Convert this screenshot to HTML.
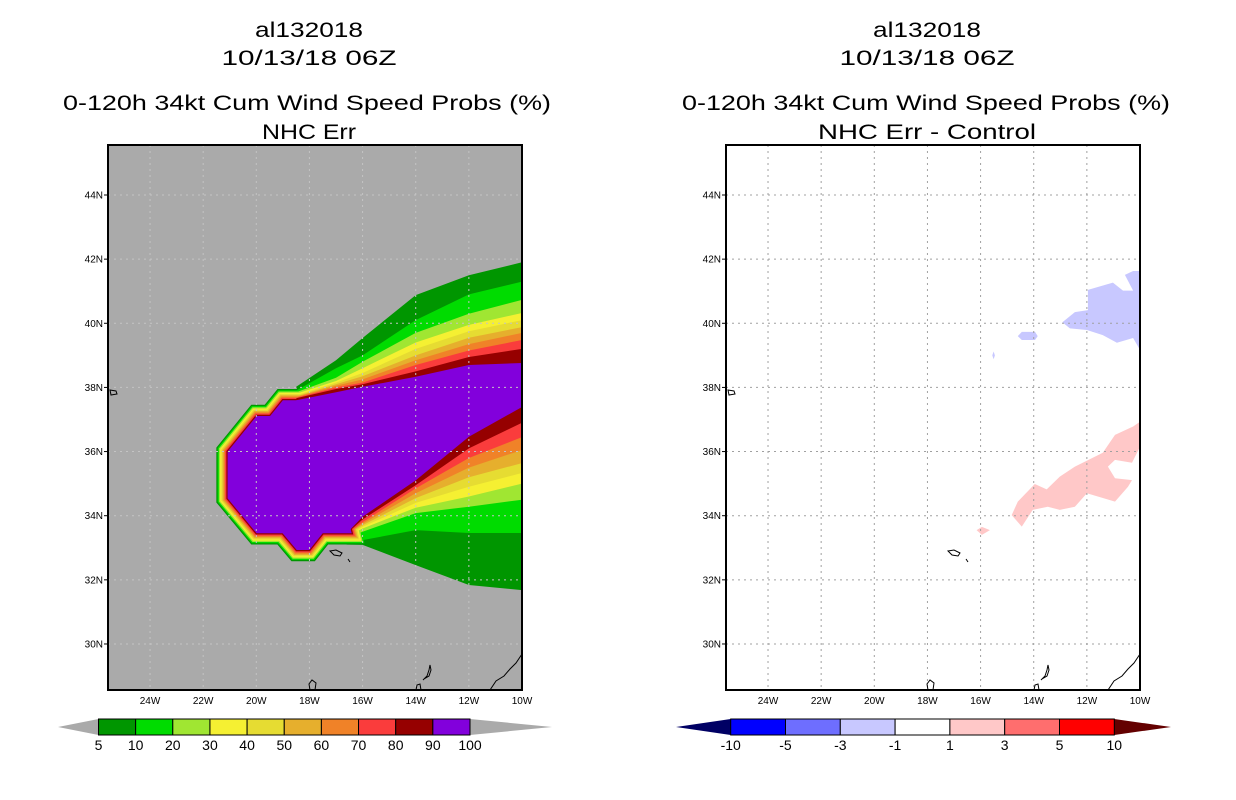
<!DOCTYPE html>
<html><head><meta charset="utf-8"><style>
html,body{margin:0;padding:0;background:#fff;width:1236px;height:800px;overflow:hidden}
svg{display:block}
text{font-family:"Liberation Sans",sans-serif;fill:#000}
</style></head><body>
<svg id="c" width="1236" height="800" viewBox="0 0 1236 800" xmlns="http://www.w3.org/2000/svg">
<g>
<text x="309" y="37" font-size="21" text-anchor="middle" textLength="108" lengthAdjust="spacingAndGlyphs">al132018</text>
<text x="309" y="65" font-size="21" text-anchor="middle" textLength="175" lengthAdjust="spacingAndGlyphs">10/13/18 06Z</text>
<text x="307" y="110" font-size="21" text-anchor="middle" textLength="488" lengthAdjust="spacingAndGlyphs">0-120h 34kt Cum Wind Speed Probs (%)</text>
<text x="309" y="139" font-size="21" text-anchor="middle" textLength="94" lengthAdjust="spacingAndGlyphs">NHC Err</text>
</g>
<g>
<text x="927" y="37" font-size="21" text-anchor="middle" textLength="108" lengthAdjust="spacingAndGlyphs">al132018</text>
<text x="927" y="65" font-size="21" text-anchor="middle" textLength="175" lengthAdjust="spacingAndGlyphs">10/13/18 06Z</text>
<text x="926" y="110" font-size="21" text-anchor="middle" textLength="488" lengthAdjust="spacingAndGlyphs">0-120h 34kt Cum Wind Speed Probs (%)</text>
<text x="927" y="139" font-size="21" text-anchor="middle" textLength="218" lengthAdjust="spacingAndGlyphs">NHC Err - Control</text>
</g>
<g id="left"></g>
<g id="right"></g>
<g id="cbars"></g>
</svg>
<script>
// ---- data ----
const levels = [5,10,20,30,40,50,60,70,80,90];
const levelColors = ["#009600","#00dc00","#a0e632","#f5f032","#e6dc32","#e6af2d","#f08228","#fa3c3c","#960000","#8200dc"];
const upperLons = [-18.5,-17,-16,-14,-12,-10];
const upper5  = [38.02,38.85,39.54,40.88,41.5,41.9];
const upper10 = [37.9,38.6,39.0,40.1,40.9,41.3];
const upper20 = [37.85,38.3,38.8,39.7,40.3,40.73];
const upper30 = [37.8,38.2,38.6,39.4,39.95,40.32];
const upper40 = [37.75,38.15,38.45,39.2,39.75,40.1];
const upper50 = [37.72,38.1,38.35,39.0,39.55,39.88];
const upper60 = [37.7,38.05,38.25,38.85,39.35,39.7];
const upper70 = [37.68,38.0,38.15,38.7,39.15,39.48];
const upper80 = [37.66,37.95,38.1,38.5,38.95,39.2];
const upper90 = [37.6,37.85,38.02,38.33,38.7,38.76];
const lowerLons = [-16.6,-16,-14,-12,-10];
const lower5  = [33.1,33.09,32.46,31.84,31.68];
const lower10 = [33.2,33.24,33.55,33.46,33.46];
const lower20 = [33.3,33.5,34.08,34.28,34.5];
const lower30 = [33.35,33.6,34.25,34.6,35.0];
const lower40 = [33.38,33.65,34.4,34.9,35.33];
const lower50 = [33.4,33.7,34.55,35.2,35.64];
const lower60 = [33.42,33.75,34.7,35.5,36.05];
const lower70 = [33.43,33.8,34.85,35.8,36.45];
const lower80 = [33.44,33.88,34.95,36.1,36.9];
const lower90 = [33.45,33.97,35.1,36.46,37.39];
const coreLon = [-17.6,-19.0,-19.48,-19.99,-21.08,-21.08,-19.99,-19.01,-18.48,-18.0,-17.5,-16.41];
const coreLat = [37.6,37.6,37.11,37.11,36.0,34.54,33.45,33.45,32.93,32.93,33.45,33.45];
const diffBlueLon = [-12.92,-12.45,-11.96,-11.96,-11.02,-10.64,-10.26,-10.57,-10.26,-10,-10,-10.26,-10.87,-11.4,-12.0,-12.64];
const diffBlueLat = [40.03,40.35,40.41,41.04,41.27,41.02,41.02,41.51,41.63,41.63,39.17,39.54,39.39,39.63,39.79,39.84];
const diffBlue2Lon = [-14.6,-14.45,-13.95,-13.85,-13.95,-14.45];
const diffBlue2Lat = [39.6,39.73,39.73,39.6,39.48,39.48];
const diffBlue3Lon = [-15.56,-15.51,-15.46,-15.51];
const diffBlue3Lat = [39.0,39.12,39.0,38.88];
const diffPinkLon = [-14.83,-14.6,-13.96,-13.51,-13.02,-12.45,-11.4,-10.94,-10.26,-10,-10,-10.3,-10.94,-11.21,-10.94,-10.3,-10.45,-10.94,-12.0,-12.45,-13.02,-13.47,-14.04,-14.45];
const diffPinkLat = [34.02,34.44,34.99,34.82,35.22,35.53,35.96,36.52,36.78,36.93,36.15,35.65,35.74,35.53,35.17,35.11,34.9,34.44,34.7,34.28,34.18,34.28,34.18,33.66];
const diffPink2Lon = [-16.15,-15.95,-15.65,-15.95];
const diffPink2Lat = [33.55,33.65,33.55,33.4];
const lonTicks = [-24,-22,-20,-18,-16,-14,-12,-10];
const lonTickLabels = ["24W","22W","20W","18W","16W","14W","12W","10W"];
const latTicks = [30,32,34,36,38,40,42,44];
const latTickLabels = ["30N","32N","34N","36N","38N","40N","42N","44N"];
const probBounds = ["5","10","20","30","40","50","60","70","80","90","100"];
const diffBounds = ["-10","-5","-3","-1","1","3","5","10"];
const diffColors = ["#0000ff","#6e6eff","#c8c8ff","#ffffff","#ffc8c8","#ff6e6e","#ff0000"];

const uppers=[upper5,upper10,upper20,upper30,upper40,upper50,upper60,upper70,upper80,upper90];
const lowers=[lower5,lower10,lower20,lower30,lower40,lower50,lower60,lower70,lower80,lower90];

// ---- axes ----
const NS="http://www.w3.org/2000/svg";
const PX={L:108,R:522,T:145,B:690};
function xS(lon,off){return 522+off+(lon+10)*26.57;}
function yS(lat){return 195+(44-lat)*32.07;}
function mk(tag,attrs,parent){const e=document.createElementNS(NS,tag);for(const k in attrs)e.setAttribute(k,attrs[k]);parent.appendChild(e);return e;}
function poly(lons,lats,off){return lons.map((l,i)=>xS(l,off).toFixed(1)+","+yS(lats[i]).toFixed(1)).join(" ");}

function frame(g,off,bg){
  const clipId="clip"+off;
  const cp=mk("clipPath",{id:clipId},g);
  mk("rect",{x:PX.L+off,y:PX.T,width:PX.R-PX.L,height:PX.B-PX.T},cp);
  const bgR=mk("rect",{x:PX.L+off,y:PX.T,width:PX.R-PX.L,height:PX.B-PX.T,fill:bg},g);
  
  
  const inner=mk("g",{"clip-path":"url(#"+clipId+")"},g);
  return inner;
}
function gridAndAxes(g,inner,off,gridColor){
  lonTicks.forEach((lon,i)=>{
    const x=xS(lon,off);
    if(lon<-10){const gl=mk("line",{x1:x,y1:PX.T,x2:x,y2:PX.B,stroke:gridColor,"stroke-width":1,"stroke-dasharray":"2,4"},inner);
    
    }
    const t=mk("text",{x:x,y:704,"font-size":10,"text-anchor":"middle"},g);t.textContent=lonTickLabels[i];
    
    
  });
  latTicks.forEach((lat,i)=>{
    const y=yS(lat);
    const gl=mk("line",{x1:PX.L+off,y1:y,x2:PX.R+off,y2:y,stroke:gridColor,"stroke-width":1,"stroke-dasharray":"2,4"},inner);
    
    
    mk("line",{x1:PX.L+off-4,y1:y,x2:PX.L+off,y2:y,stroke:"#000"},g);
    const t=mk("text",{x:PX.L+off-5,y:y+3.5,"font-size":10,"text-anchor":"end"},g);t.textContent=latTickLabels[i];
    
    
  });
  coast(inner,off);
  const fr=mk("rect",{x:PX.L+off,y:PX.T,width:PX.R-PX.L,height:PX.B-PX.T,fill:"none",stroke:"#000","stroke-width":2},g);
  
  
}
function coast(g,off){
  const cg=mk("g",{fill:"none",stroke:"#000","stroke-width":1,transform:"translate("+off+",0)"},g);
  
  
  mk("path",{d:"M110,390 l6,1 l1,3 l-6,1 z"},cg);
  mk("path",{d:"M330,551 l6,-1 l6,3 l-2,3 l-6,-1 z M348,559 l2,3"},cg);
  mk("path",{d:"M310,690 l-1,-6 l3,-4 l4,3 l-1,7"},cg);
  mk("path",{d:"M416,690 l1,-5 l3,-1 l1,6 M423,680 l4,-4 l2,-6 l1,-5 l1,5 l-2,6 l-5,3 z"},cg);
  mk("path",{d:"M490,690 l6,-9 l8,-5 l6,-7 l6,-6 l6,-9"},cg);
}

// ---- left panel ----
const L=document.getElementById("left");
const Li=frame(L,0,"#aaaaaa");
levels.forEach((lv,i)=>{
  const g=mk("g",{fill:levelColors[i]},Li);
  
  
  const up=uppers[i], lo=lowers[i];
  const lons=upperLons.concat([-9.5,-9.5]).concat(lowerLons.slice().reverse());
  const lats=up.concat([up[up.length-1],lo[lo.length-1]]).concat(lo.slice().reverse());
  mk("polygon",{points:poly(lons,lats,0)},g);
  const w=(levels.length-1-i)*2.5;
  mk("polygon",{points:poly(coreLon,coreLat,0),stroke:levelColors[i],"stroke-width":w,"stroke-linejoin":"miter","stroke-miterlimit":4},g);
});
gridAndAxes(L,Li,0,"#c4c4c4");

// ---- right panel ----
const R=document.getElementById("right");
const Ri=frame(R,618,"#ffffff");
[[diffBlueLon,diffBlueLat,"#c8c8ff","diff-negative-area"],[diffBlue2Lon,diffBlue2Lat,"#c8c8ff","diff-negative-area"],[diffBlue3Lon,diffBlue3Lat,"#c8c8ff","diff-negative-area"],
 [diffPinkLon,diffPinkLat,"#ffc8c8","diff-positive-area"],[diffPink2Lon,diffPink2Lat,"#ffc8c8","diff-positive-area"]].forEach(a=>{
  const p=mk("polygon",{points:poly(a[0],a[1],618),fill:a[2]},Ri);
  
  
});
gridAndAxes(R,Ri,618,"#a0a0a0");

// ---- colorbars ----
const C=document.getElementById("cbars");
function cbar(x0,x1,tipL,tipR,colors,labels,triL,triR,name){
  const g=mk("g",{},C);
  
  
  const y0=719,y1=735,ym=727;
  mk("polygon",{points:tipL+","+ym+" "+x0+","+y0+" "+x0+","+y1,fill:triL},g);
  mk("polygon",{points:tipR+","+ym+" "+x1+","+y0+" "+x1+","+y1,fill:triR},g);
  const w=(x1-x0)/colors.length;
  colors.forEach((c,i)=>{
    const r=mk("rect",{x:x0+i*w,y:y0,width:w,height:y1-y0,fill:c,stroke:"#000","stroke-width":1},g);
    
    
  });
  labels.forEach((s,i)=>{
    const t=mk("text",{x:x0+i*w,y:750,"font-size":14,"text-anchor":"middle"},g);t.textContent=s;
    
    
  });
}
cbar(98.5,470,58,552,levelColors,probBounds,"#aaaaaa","#aaaaaa","prob-colorbar");
cbar(730.7,1114.3,676,1171,diffColors,diffBounds,"#000064","#640000","diff-colorbar");
</script>
</body></html>
